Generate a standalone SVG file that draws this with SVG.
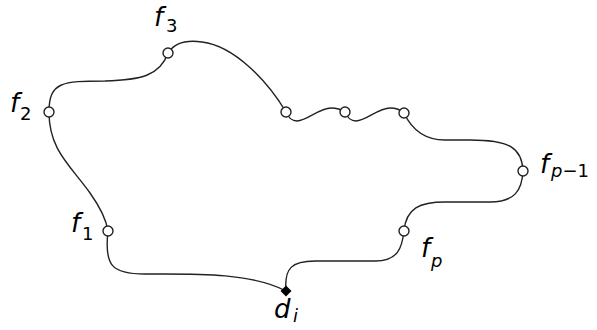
<svg xmlns="http://www.w3.org/2000/svg" width="597" height="330" viewBox="0 0 597 330">
<style>
.c{fill:none;stroke:#222;stroke-width:1.4}
.n{fill:#fff;stroke:#222;stroke-width:1.4}
.d{fill:#000}
.t{font-family:"DejaVu Sans",sans-serif;font-style:italic;font-size:26px;fill:#000}
.s{font-size:18px}
.u{font-style:normal}
</style>
<rect width="597" height="330" fill="#fff"/>
<g id="connectors">
<path class="c" d="M49,112 C49,150 70,165 90,193 C100,207 106,218 108,231"/>
<path class="c" d="M108,231 C104,266 112,274 145,274 C190,274 250,272 286,291"/>
<path class="c" d="M286,291 C284,268 292,261 315,261 L375,261 C398,261 402,248 404,231"/>
<path class="c" d="M404,231 C406,208 420,202 445,202 L490,202 C515,202 522,190 523,171"/>
<path class="c" d="M523,171 C522,148 510,140 470,140 L445,140 C425,140 412,130 404,113"/>
<path class="c" d="M345,112 C348,119 351,121 356,121 C366,121 378,108 390,108 C397,108 401,110 404,113"/>
<path class="c" d="M286,112 C289,119 292,121 297,121 C307,121 319,108 331,108 C338,108 342,110 345,112"/>
<path class="c" d="M168,53 C175,42 188,40 202,42 C235,46 268,82 286,112"/>
<path class="c" d="M168,53 C160,76 140,80 105,81 C62,81 49,82 49,112"/>
</g>
<g id="f1"><circle class="n" cx="108" cy="231" r="5"/><text class="t" x="71" y="232">f<tspan class="s u" x="82" y="240">1</tspan></text></g>
<g id="f2"><circle class="n" cx="49" cy="112" r="5"/><text class="t" x="10" y="112">f<tspan class="s u" x="20" y="120">2</tspan></text></g>
<g id="f3"><circle class="n" cx="168" cy="53" r="5"/><text class="t" x="154" y="26">f<tspan class="s u" x="166" y="32">3</tspan></text></g>
<g id="w1"><circle class="n" cx="286" cy="112" r="5"/></g>
<g id="w2"><circle class="n" cx="345" cy="112" r="5"/></g>
<g id="w3"><circle class="n" cx="404" cy="113" r="5"/></g>
<g id="fp1"><circle class="n" cx="523" cy="171" r="5"/><text class="t" x="540" y="173">f<tspan class="s" x="551" y="177">p</tspan><tspan class="s u">−1</tspan></text></g>
<g id="fp"><circle class="n" cx="404" cy="231" r="5"/><text class="t" x="421" y="257">f<tspan class="s" x="431" y="267">p</tspan></text></g>
<g id="di"><polygon class="d" points="286,285.5 291.5,291 286,296.5 280.5,291"/><text class="t" x="274" y="318">d<tspan class="s" x="293" y="322">i</tspan></text></g>
</svg>
